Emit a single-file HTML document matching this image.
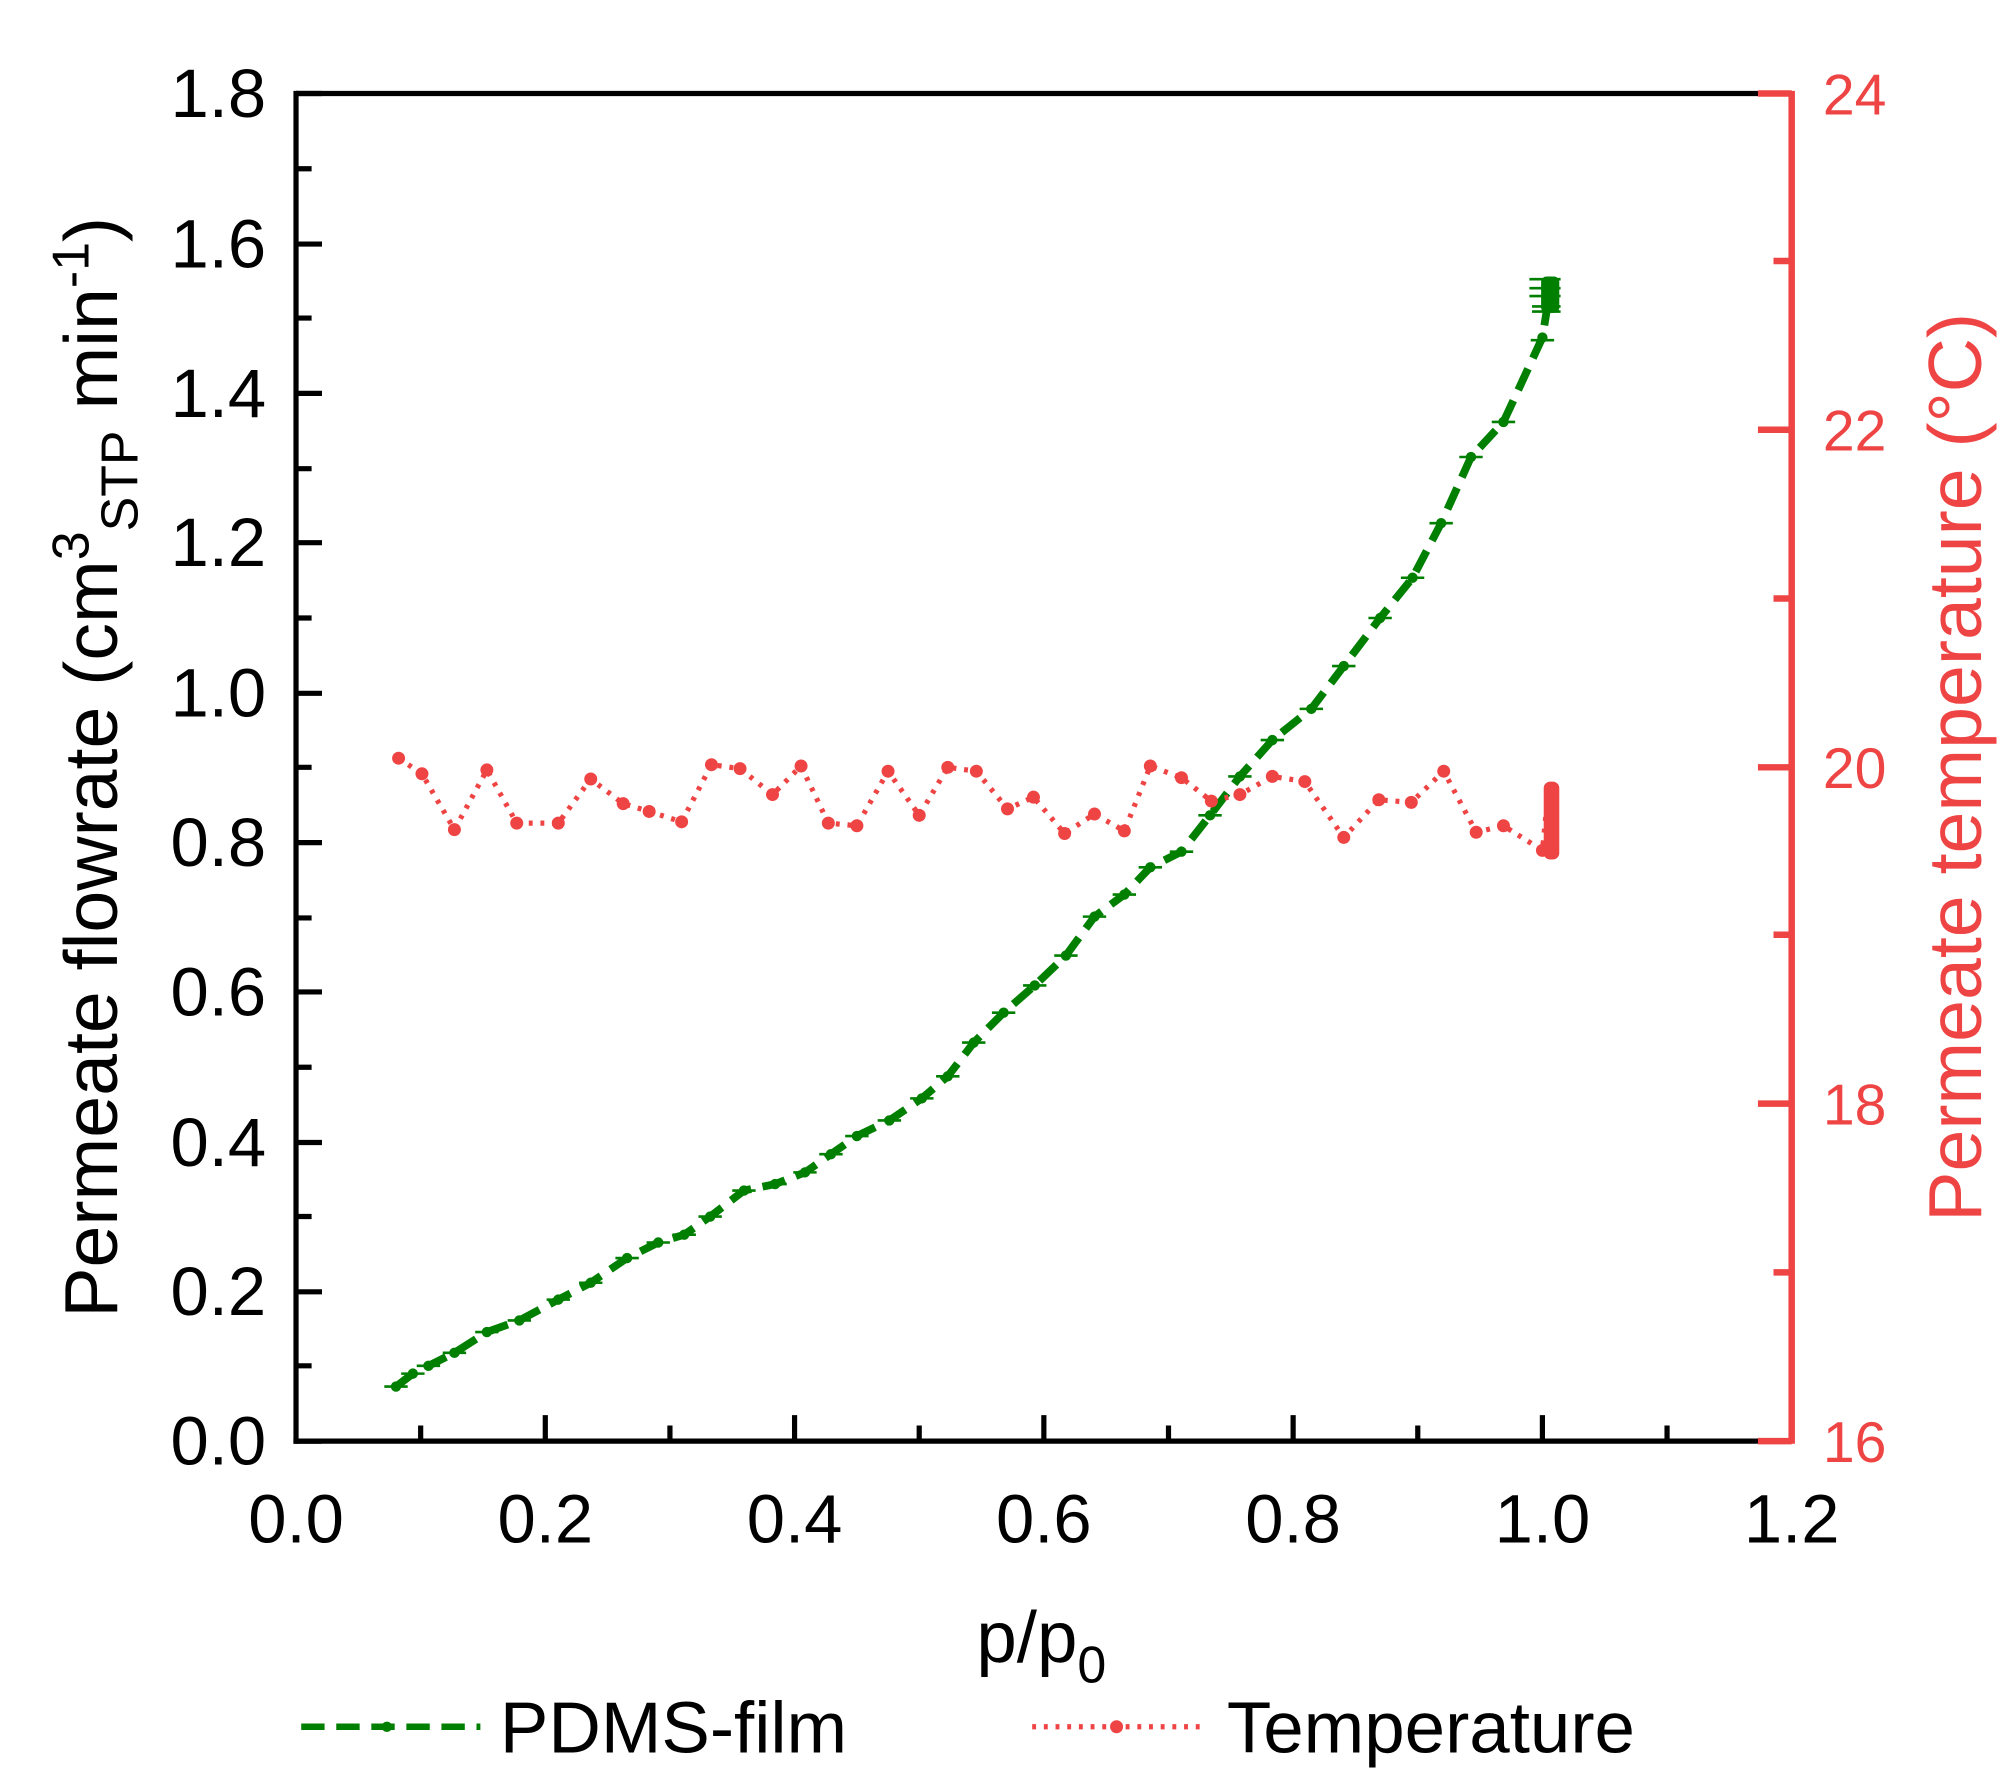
<!DOCTYPE html>
<html><head><meta charset="utf-8"><style>
html,body{margin:0;padding:0;background:#fff}
svg{display:block}
text{font-family:"Liberation Sans",Arial,sans-serif}
</style></head><body>
<svg width="2015" height="1780" viewBox="0 0 1552 1371" xmlns="http://www.w3.org/2000/svg">
<rect width="1552" height="1371" fill="#fff"/>
<g stroke="#000" stroke-width="4" fill="none">
<line x1="228" y1="72" x2="1380" y2="72"/>
<line x1="228" y1="70" x2="228" y2="1112"/>
<line x1="226" y1="1110" x2="1380" y2="1110"/>
<path d="M228 1110h20M228 995h20M228 880h20M228 764h20M228 649h20M228 534h20M228 418h20M228 303h20M228 188h20M228 72h20"/>
<path d="M228 1052h12M228 937h12M228 822h12M228 707h12M228 591h12M228 476h12M228 361h12M228 245h12M228 130h12"/>
<path d="M420 1110v-20M612 1110v-20M804 1110v-20M996 1110v-20M1188 1110v-20"/>
<path d="M324 1110v-12M516 1110v-12M708 1110v-12M900 1110v-12M1092 1110v-12M1284 1110v-12"/>
</g>
<g stroke="#EF4444" stroke-width="5" fill="none">
<line x1="1380" y1="70" x2="1380" y2="1112"/>
<path d="M1380 1110h-26M1380 850h-26M1380 591h-26M1380 331h-26M1380 72h-26"/>
<path d="M1380 980h-14M1380 720h-14M1380 461h-14M1380 201h-14"/>
</g>
<g font-size="53" fill="#000" text-anchor="end">
<text x="205" y="1128">0.0</text><text x="205" y="1013">0.2</text><text x="205" y="898">0.4</text>
<text x="205" y="782">0.6</text><text x="205" y="667">0.8</text><text x="205" y="552">1.0</text>
<text x="205" y="436">1.2</text><text x="205" y="321">1.4</text><text x="205" y="206">1.6</text>
<text x="205" y="90">1.8</text>
</g>
<g font-size="53" fill="#000" text-anchor="middle">
<text x="228" y="1188">0.0</text><text x="420" y="1188">0.2</text><text x="612" y="1188">0.4</text>
<text x="804" y="1188">0.6</text><text x="996" y="1188">0.8</text><text x="1188" y="1188">1.0</text>
<text x="1380" y="1188">1.2</text>
</g>
<g font-size="44" fill="#EF4444" text-anchor="start">
<text x="1404" y="1126">16</text><text x="1404" y="866">18</text><text x="1404" y="607">20</text>
<text x="1404" y="347">22</text><text x="1404" y="88">24</text>
</g>
<text transform="translate(90,591) rotate(-90)" font-size="58" text-anchor="middle" fill="#000">Permeate flowrate (cm<tspan dy="-22" font-size="40">3</tspan><tspan dy="38" font-size="40">STP</tspan><tspan dy="-16"> min</tspan><tspan dy="-22" font-size="40">-1</tspan><tspan dy="22">)</tspan></text>
<text transform="translate(1526,591) rotate(-90)" font-size="58" text-anchor="middle" fill="#EF4444">Permeate temperature (°C)</text>
<text x="752" y="1280" font-size="56" fill="#000">p/p<tspan dy="16" font-size="40">0</tspan></text>
<g stroke="#007F00" fill="none">
<polyline stroke-width="6" stroke-dasharray="18,9" points="305,1068 318,1058 330,1052 350,1042 375,1026 400,1017 430,1001 455,988 483,969 507,957 527,951 547,937 573,917 597,912 620,903 640,889 660,875 685,863 710,846 730,829 750,803 773,780 797,759 821,736 843,706 866,689 886,668 910,656 932,628 955,598 980,570 1010,546 1035,513 1063,476 1088,445 1110,403 1133,352 1158,325 1188,260 1192,235"/>
<path stroke-width="2" d="M296 1068h18M309 1058h18M321 1052h18M341 1042h18M366 1026h18M391 1017h18M421 1001h18M446 988h18M474 969h18M498 957h18M518 951h18M538 937h18M564 917h18M588 912h18M611 903h18M631 889h18M651 875h18M676 863h18M701 846h18M721 829h18M741 803h18M764 780h18M788 759h18M812 736h18M834 706h18M857 689h18M877 668h18M901 656h18M923 628h18M946 598h18M971 570h18M1001 546h18M1026 513h18M1054 476h18M1079 445h18M1101 403h18M1124 352h18M1149 325h18M1179 262h18M1178 215h24M1178 222h24M1178 228h24M1180 236h22M1180 240h22"/>
</g>
<g fill="#007F00">
<circle cx="305" cy="1068" r="4"/><circle cx="318" cy="1058" r="4"/><circle cx="330" cy="1052" r="4"/><circle cx="350" cy="1042" r="4"/><circle cx="375" cy="1026" r="4"/><circle cx="400" cy="1017" r="4"/><circle cx="430" cy="1001" r="4"/><circle cx="455" cy="988" r="4"/><circle cx="483" cy="969" r="4"/><circle cx="507" cy="957" r="4"/><circle cx="527" cy="951" r="4"/><circle cx="547" cy="937" r="4"/><circle cx="573" cy="917" r="4"/><circle cx="597" cy="912" r="4"/><circle cx="620" cy="903" r="4"/><circle cx="640" cy="889" r="4"/><circle cx="660" cy="875" r="4"/><circle cx="685" cy="863" r="4"/><circle cx="710" cy="846" r="4"/><circle cx="730" cy="829" r="4"/><circle cx="750" cy="803" r="4"/><circle cx="773" cy="780" r="4"/><circle cx="797" cy="759" r="4"/><circle cx="821" cy="736" r="4"/><circle cx="843" cy="706" r="4"/><circle cx="866" cy="689" r="4"/><circle cx="886" cy="668" r="4"/><circle cx="910" cy="656" r="4"/><circle cx="932" cy="628" r="4"/><circle cx="955" cy="598" r="4"/><circle cx="980" cy="570" r="4"/><circle cx="1010" cy="546" r="4"/><circle cx="1035" cy="513" r="4"/><circle cx="1063" cy="476" r="4"/><circle cx="1088" cy="445" r="4"/><circle cx="1110" cy="403" r="4"/><circle cx="1133" cy="352" r="4"/><circle cx="1158" cy="325" r="4"/><circle cx="1188" cy="260" r="4"/>
<rect x="1187" y="213" width="14" height="28" rx="4"/>
</g>
<polyline fill="none" stroke="#EF4444" stroke-width="4" stroke-dasharray="3,6" points="307,584 325,596 350,639 375,593 398,634 430,634 455,600 480,619 500,625 525,633 548,589 570,592 595,612 617,590 638,634 660,636 684,594 708,628 730,591 752,594 776,623 796,614 820,642 843,627 866,640 886,590 910,599 933,617 955,612 980,598 1005,602 1035,645 1062,616 1087,618 1112,594 1137,641 1158,636 1188,655 1193,605"/>
<g fill="#EF4444">
<circle cx="307" cy="584" r="5"/><circle cx="325" cy="596" r="5"/><circle cx="350" cy="639" r="5"/><circle cx="375" cy="593" r="5"/><circle cx="398" cy="634" r="5"/><circle cx="430" cy="634" r="5"/><circle cx="455" cy="600" r="5"/><circle cx="480" cy="619" r="5"/><circle cx="500" cy="625" r="5"/><circle cx="525" cy="633" r="5"/><circle cx="548" cy="589" r="5"/><circle cx="570" cy="592" r="5"/><circle cx="595" cy="612" r="5"/><circle cx="617" cy="590" r="5"/><circle cx="638" cy="634" r="5"/><circle cx="660" cy="636" r="5"/><circle cx="684" cy="594" r="5"/><circle cx="708" cy="628" r="5"/><circle cx="730" cy="591" r="5"/><circle cx="752" cy="594" r="5"/><circle cx="776" cy="623" r="5"/><circle cx="796" cy="614" r="5"/><circle cx="820" cy="642" r="5"/><circle cx="843" cy="627" r="5"/><circle cx="866" cy="640" r="5"/><circle cx="886" cy="590" r="5"/><circle cx="910" cy="599" r="5"/><circle cx="933" cy="617" r="5"/><circle cx="955" cy="612" r="5"/><circle cx="980" cy="598" r="5"/><circle cx="1005" cy="602" r="5"/><circle cx="1035" cy="645" r="5"/><circle cx="1062" cy="616" r="5"/><circle cx="1087" cy="618" r="5"/><circle cx="1112" cy="594" r="5"/><circle cx="1137" cy="641" r="5"/><circle cx="1158" cy="636" r="5"/><circle cx="1188" cy="655" r="5"/>
<rect x="1189" y="602" width="12" height="60" rx="5"/>
</g>
<line x1="232" y1="1330" x2="370" y2="1330" stroke="#007F00" stroke-width="5" stroke-dasharray="18,9"/>
<circle cx="298" cy="1330" r="4" fill="#007F00"/>
<text x="385" y="1350" font-size="56" fill="#000">PDMS-film</text>
<line x1="795" y1="1330" x2="925" y2="1330" stroke="#EF4444" stroke-width="4" stroke-dasharray="3,6"/>
<circle cx="860" cy="1330" r="5" fill="#EF4444"/>
<text x="945" y="1350" font-size="56" fill="#000">Temperature</text>
</svg>
</body></html>
